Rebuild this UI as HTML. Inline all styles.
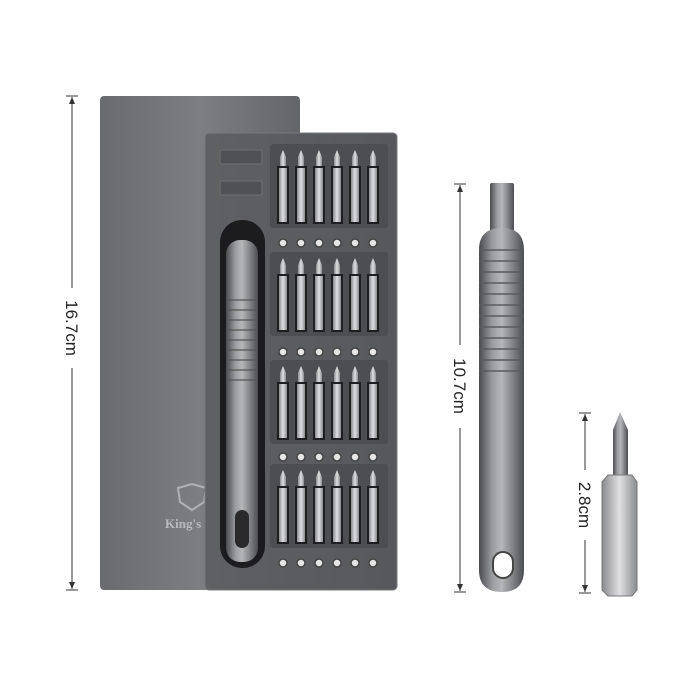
<!DOCTYPE html>
<html><head><meta charset="utf-8"><style>
html,body{margin:0;padding:0;background:#fff;width:700px;height:700px;overflow:hidden}
</style></head><body>
<svg width="700" height="700" viewBox="0 0 700 700" xmlns="http://www.w3.org/2000/svg">
<defs>
<linearGradient id="caseG" x1="0" x2="1" y1="0" y2="0">
<stop offset="0" stop-color="#6a6b6e"/><stop offset="0.5" stop-color="#7d7e81"/><stop offset="1" stop-color="#646568"/></linearGradient>
<linearGradient id="trayG" x1="0" x2="1"><stop offset="0" stop-color="#5f6063"/><stop offset="1" stop-color="#57585b"/></linearGradient>
<linearGradient id="metal" x1="0" x2="1">
<stop offset="0" stop-color="#4a4b4e"/><stop offset="0.3" stop-color="#9c9da0"/><stop offset="0.5" stop-color="#b5b6b8"/><stop offset="0.8" stop-color="#77787b"/><stop offset="1" stop-color="#4c4d50"/></linearGradient>
<linearGradient id="bitG" x1="0" x2="1"><stop offset="0" stop-color="#8a8b8e"/><stop offset="0.5" stop-color="#e0e0e2"/><stop offset="1" stop-color="#8a8b8e"/></linearGradient>
<g id="bit">
<path d="M-3 12 L-3 3 L0 -4 L3 3 L3 12 Z" fill="url(#bitG)"/>
<rect x="-6" y="12" width="12" height="58" fill="#1e1e20"/>
<rect x="-4" y="14" width="8" height="54" fill="url(#bitG)"/>
</g>
<g id="row">
<rect x="270" y="-10" width="118" height="84" rx="3" fill="#4d4e51"/>
<use href="#bit" x="283"/><use href="#bit" x="301"/><use href="#bit" x="319"/>
<use href="#bit" x="337"/><use href="#bit" x="355"/><use href="#bit" x="373"/>
</g>
<g id="dots" fill="#e6e6e6" stroke="#444" stroke-width="1.5">
<circle cx="283" cy="0" r="4"/><circle cx="301" cy="0" r="4"/><circle cx="319" cy="0" r="4"/>
<circle cx="337" cy="0" r="4"/><circle cx="355" cy="0" r="4"/><circle cx="373" cy="0" r="4"/>
</g>
</defs>

<rect x="100" y="96" width="200" height="494" rx="4" fill="url(#caseG)"/>
<text x="165" y="528" font-family="Liberation Serif, serif" font-weight="bold" font-size="13" fill="#b9babc">King's</text>
<path d="M178 488 L192 484 L206 488 L204 502 L192 510 L180 502 Z" fill="none" stroke="#b0b1b3" stroke-width="2"/>
<rect x="205" y="133" width="192" height="457" rx="4" fill="url(#trayG)" stroke="#77787b"/>
<rect x="220" y="150" width="42" height="14" rx="2" fill="#505154" stroke="#6e6f72"/>
<rect x="220" y="181" width="42" height="14" rx="2" fill="#505154" stroke="#6e6f72"/>
<rect x="220" y="220" width="45" height="348" rx="22" fill="#1c1c1e"/>
<rect x="226" y="240" width="32" height="322" rx="14" fill="url(#metal)"/>
<g stroke="#555" stroke-width="1.2">
<line x1="226" y1="300" x2="258" y2="300"/><line x1="226" y1="310" x2="258" y2="310"/>
<line x1="226" y1="320" x2="258" y2="320"/><line x1="226" y1="330" x2="258" y2="330"/>
<line x1="226" y1="340" x2="258" y2="340"/><line x1="226" y1="350" x2="258" y2="350"/>
<line x1="226" y1="360" x2="258" y2="360"/><line x1="226" y1="370" x2="258" y2="370"/>
<line x1="226" y1="380" x2="258" y2="380"/></g>
<rect x="235" y="510" width="14" height="38" rx="7" fill="#2a2a2c"/>

<use href="#row" y="154"/><use href="#dots" y="243"/>
<use href="#row" y="262"/><use href="#dots" y="352"/>
<use href="#row" y="370"/><use href="#dots" y="457"/>
<use href="#row" y="474"/><use href="#dots" y="563"/>

<g stroke="#333" stroke-width="1" fill="none">
<line x1="66" y1="96" x2="78" y2="96"/><line x1="66" y1="590" x2="78" y2="590"/>
<line x1="72" y1="97" x2="72" y2="288"/><line x1="72" y1="368" x2="72" y2="589"/>
<line x1="454" y1="184" x2="466" y2="184"/><line x1="454" y1="592" x2="466" y2="592"/>
<line x1="460" y1="185" x2="460" y2="345"/><line x1="460" y1="428" x2="460" y2="591"/>
<line x1="579" y1="413" x2="591" y2="413"/><line x1="579" y1="593" x2="591" y2="593"/>
<line x1="585" y1="414" x2="585" y2="470"/><line x1="585" y1="540" x2="585" y2="592"/>
</g>
<g fill="#333"><path d="M72 97 l-3 7 h6z"/><path d="M72 589 l-3 -7 h6z"/>
<path d="M460 185 l-3 7 h6z"/><path d="M460 591 l-3 -7 h6z"/>
<path d="M585 414 l-3 7 h6z"/><path d="M585 592 l-3 -7 h6z"/></g>
<g font-family="Liberation Sans, sans-serif" font-size="17" fill="#222" text-anchor="middle">
<text transform="translate(66 328) rotate(90)">16.7cm</text>
<text transform="translate(454 386) rotate(90)">10.7cm</text>
<text transform="translate(579 505) rotate(90)">2.8cm</text>
</g>

<rect x="490" y="183" width="24" height="50" rx="2" fill="url(#metal)"/>
<path d="M479 250 Q479 228 502 228 Q524 228 524 250 L524 570 Q524 592 502 592 Q479 592 479 570 Z" fill="url(#metal)"/>
<g stroke="#5a5b5e" stroke-width="1.5">
<line x1="479" y1="250" x2="524" y2="250"/><line x1="479" y1="261" x2="524" y2="261"/>
<line x1="479" y1="272" x2="524" y2="272"/><line x1="479" y1="283" x2="524" y2="283"/>
<line x1="479" y1="294" x2="524" y2="294"/><line x1="479" y1="305" x2="524" y2="305"/>
<line x1="479" y1="316" x2="524" y2="316"/><line x1="479" y1="327" x2="524" y2="327"/>
<line x1="479" y1="338" x2="524" y2="338"/><line x1="479" y1="349" x2="524" y2="349"/>
<line x1="479" y1="360" x2="524" y2="360"/><line x1="479" y1="371" x2="524" y2="371"/></g>
<rect x="493" y="552" width="20" height="26" rx="10" fill="#fff" stroke="#444" stroke-width="2"/>

<path d="M613 475 L613 430 L620 412 L628 430 L628 475 Z" fill="url(#metal)"/>
<path d="M602 482 L608 475 L632 475 L637 482 L637 590 L632 596 L608 596 L602 590 Z" fill="url(#bitG)" stroke="#777"/>
</svg>
</body></html>
